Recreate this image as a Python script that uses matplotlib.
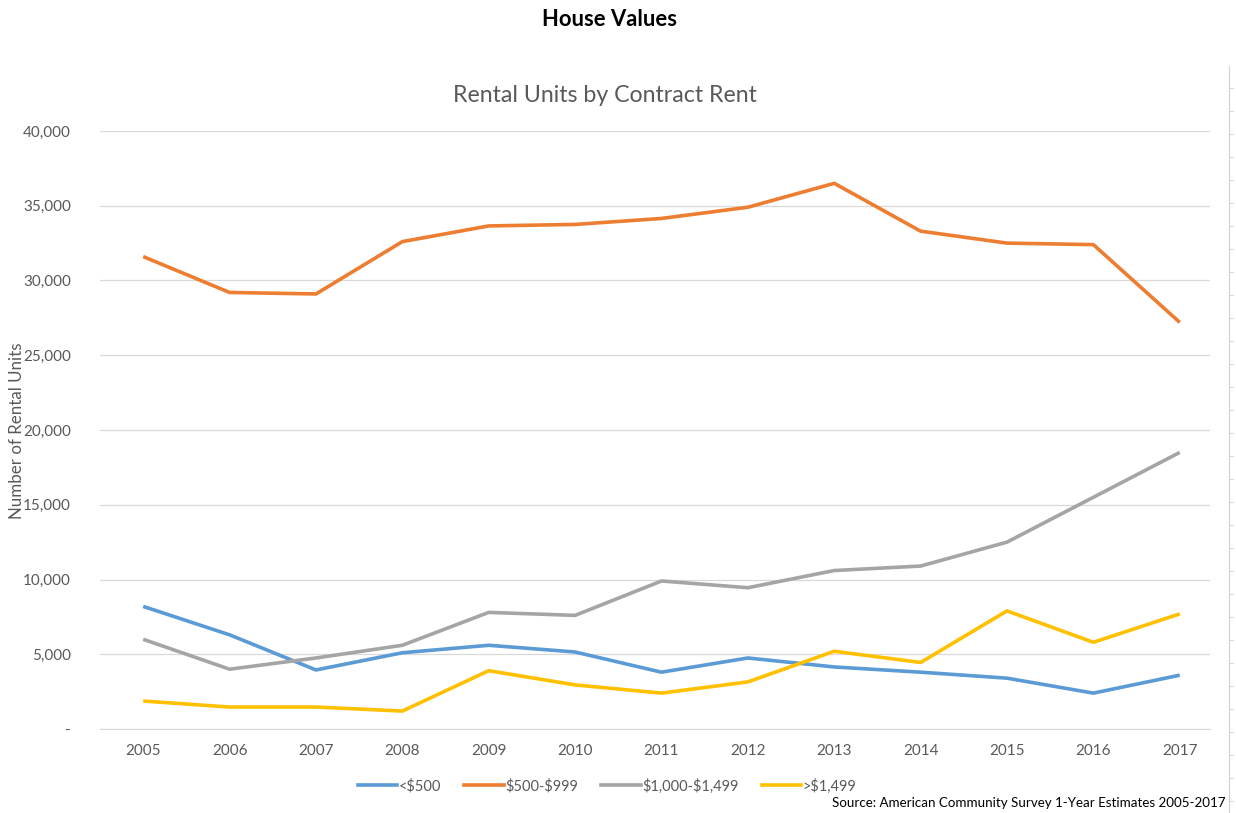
import matplotlib
matplotlib.use("Agg")
import matplotlib.pyplot as plt
from matplotlib.ticker import FuncFormatter, MultipleLocator
from matplotlib.lines import Line2D

plt.rcParams['font.family'] = ['Lato', 'DejaVu Sans']
plt.rcParams['text.parse_math'] = False

years = [2005, 2006, 2007, 2008, 2009, 2010, 2011, 2012, 2013, 2014, 2015, 2016, 2017]
under_500 = [8200, 6300, 3950, 5100, 5600, 5150, 3800, 4750, 4150, 3800, 3400, 2400, 3600]
rent_500_999 = [31600, 29200, 29100, 32600, 33650, 33750, 34150, 34900, 36500, 33300, 32500, 32400, 27200]
rent_1000_1499 = [6000, 4000, 4750, 5600, 7800, 7600, 9900, 9450, 10600, 10900, 12500, 15500, 18500]
over_1499 = [1870, 1470, 1470, 1200, 3900, 2950, 2400, 3150, 5200, 4450, 7900, 5800, 7700]

series_labels = ['<$500', '$500-$999', '$1,000-$1,499', '>$1,499']
series_values = [under_500, rent_500_999, rent_1000_1499, over_1499]
colors = ['#5B9BD5', '#ED7D31', '#A5A5A5', '#FFC000']

W, H = 1236, 813
fig = plt.figure(figsize=(W / 100, H / 100), dpi=100)
ax = fig.add_axes([100 / W, 1 - 729 / H, (1210 - 100) / W, (729 - 131) / H])

for vals, lab, col in zip(series_values, series_labels, colors):
    ax.plot(years, vals, color=col, lw=2.6, label=lab, solid_capstyle='butt')

ax.set_ylim(0, 40000)
ax.set_xlim(2004.5, 2017.35)
ax.set_xticks(years)
ax.yaxis.set_major_locator(MultipleLocator(5000))
ax.yaxis.set_major_formatter(FuncFormatter(lambda v, p: '-' if v == 0 else f'{int(v):,}'))
ax.grid(axis='y', color='#D9D9D9', lw=0.9)
ax.set_axisbelow(True)
for s in ['top', 'right', 'left']:
    ax.spines[s].set_visible(False)
ax.spines['bottom'].set_color('#D9D9D9')
ax.tick_params(axis='both', length=0, colors='#595959', labelsize=11)
ax.tick_params(axis='x', pad=11)
ax.tick_params(axis='y', pad=21)

fig.text(17 / W, 1 - 431 / H, 'Number of Rental Units', rotation=90, ha='center', va='center',
         color='#595959', fontsize=12.2)
fig.text(609 / W, 1 - 20 / H, 'House Values', ha='center', va='center',
         fontsize=15.8, fontweight='bold', color='black')
fig.text(605 / W, 1 - 96 / H, 'Rental Units by Contract Rent', ha='center', va='center',
         fontsize=16.7, color='#595959')

handles = [Line2D([0], [0], color=c, lw=2.6) for c in colors]
fig.legend(handles, series_labels, loc='center', ncol=4, frameon=False,
           bbox_to_anchor=(607 / W, 1 - 786 / H), fontsize=10.5, handlelength=2.7,
           handletextpad=0.1, columnspacing=1.6, labelcolor='#595959')

fig.text(1225 / W, 1 - 803 / H, 'Source: American Community Survey 1-Year Estimates 2005-2017',
         ha='right', va='center', fontsize=9.6, color='black')

# thin sheet border with small ticks along the right edge
border_x = 1229 / W
fig.add_artist(Line2D([border_x, border_x], [0, 1 - 66 / H], color='#D0D0D0', lw=0.8))
for py in range(88, 813, 23):
    fig.add_artist(Line2D([border_x, border_x + 4 / W], [1 - py / H, 1 - py / H],
                          color='#D0D0D0', lw=0.6))

fig.savefig('out.png', dpi=100, facecolor='white')
